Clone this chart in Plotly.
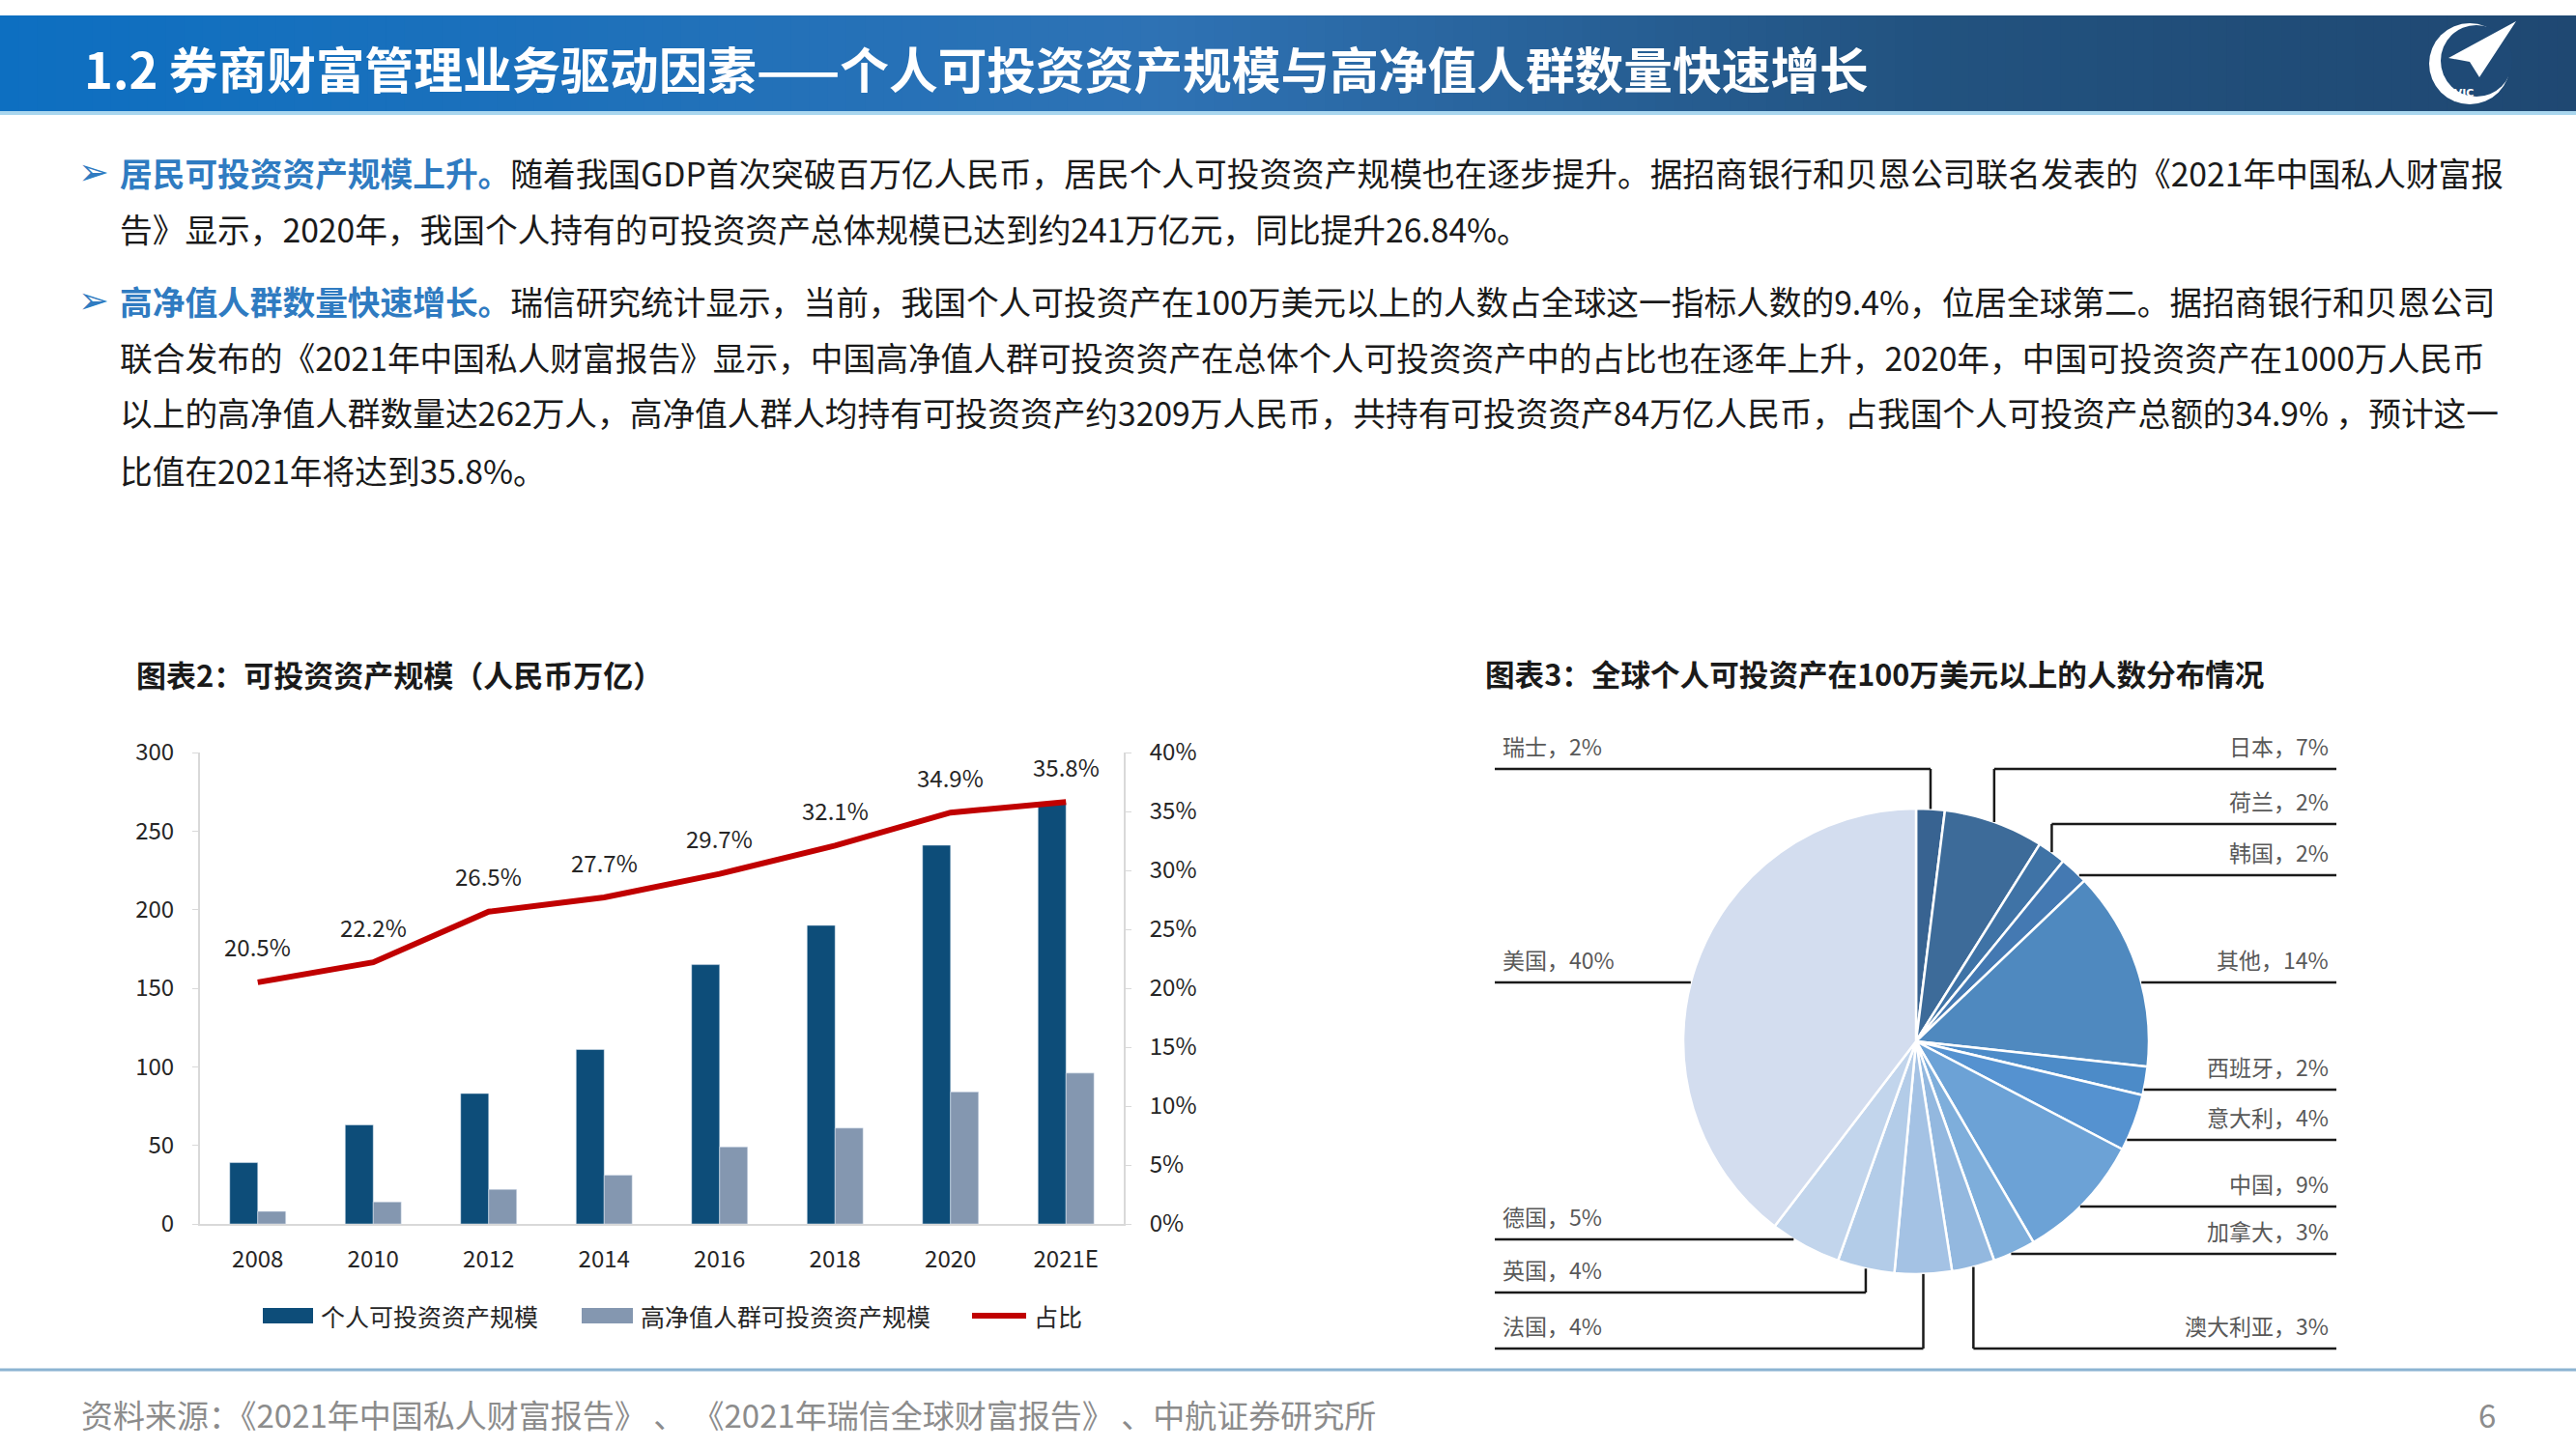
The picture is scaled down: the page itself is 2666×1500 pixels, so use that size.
import math
import plotly.graph_objects as go

W, H = 2666, 1500


def px(x):
    return x / W


def py(y):
    return 1 - y / H


# ---------------- data ----------------
years = ["2008", "2010", "2012", "2014", "2016", "2018", "2020", "2021E"]
personal_assets = [39, 63, 83, 111, 165, 190, 241, 268]
hnw_assets = [8, 14, 22, 31, 49, 61, 84, 96]
hnw_share = [20.5, 22.2, 26.5, 27.7, 29.7, 32.1, 34.9, 35.8]
series_names = ["个人可投资资产规模", "高净值人群可投资资产规模", "占比"]
left_ticks = [0, 50, 100, 150, 200, 250, 300]
right_ticks = [0, 5, 10, 15, 20, 25, 30, 35, 40]

countries = ["瑞士", "日本", "荷兰", "韩国", "其他", "西班牙", "意大利",
             "中国", "加拿大", "澳大利亚", "法国", "英国", "德国", "美国"]
country_pct = [2, 7, 2, 2, 14, 2, 4, 9, 3, 3, 4, 4, 5, 40]
pie_colors = ["#386391", "#3d6b99", "#3f73a6", "#4479b2", "#4f89bf", "#4c8bc8",
              "#5592d0", "#6ca2d6", "#7eaedb", "#93b8df", "#a4c2e4", "#b3cce8",
              "#c2d5ec", "#d3ddef"]

title_text = "1.2 券商财富管理业务驱动因素——个人可投资资产规模与高净值人群数量快速增长"
para_lines = [
    ("居民可投资资产规模上升。", "随着我国GDP首次突破百万亿人民币，居民个人可投资资产规模也在逐步提升。据招商银行和贝恩公司联名发表的《2021年中国私人财富报"),
    ("", "告》显示，2020年，我国个人持有的可投资资产总体规模已达到约241万亿元，同比提升26.84%。"),
    ("高净值人群数量快速增长。", "瑞信研究统计显示，当前，我国个人可投资产在100万美元以上的人数占全球这一指标人数的9.4%，位居全球第二。据招商银行和贝恩公司"),
    ("", "联合发布的《2021年中国私人财富报告》显示，中国高净值人群可投资资产在总体个人可投资资产中的占比也在逐年上升，2020年，中国可投资资产在1000万人民币"),
    ("", "以上的高净值人群数量达262万人，高净值人群人均持有可投资资产约3209万人民币，共持有可投资资产84万亿人民币，占我国个人可投资产总额的34.9% ，预计这一"),
    ("", "比值在2021年将达到35.8%。"),
]
chart2_title = "图表2：可投资资产规模（人民币万亿）"
chart3_title = "图表3：全球个人可投资产在100万美元以上的人数分布情况"
source_text = "资料来源：《2021年中国私人财富报告》 、 《2021年瑞信全球财富报告》 、中航证券研究所"
page_no = "6"

FONT = "Noto Sans CJK SC, Noto Sans, DejaVu Sans, sans-serif"
DARK_BAR = "#0d4d79"
LIGHT_BAR = "#8497b0"
RED = "#c00000"
AXIS_GRAY = "#d9d9d9"

fig = go.Figure()
shapes = []
annotations = []

# ---------------- header band (gradient strips) ----------------
stops = [(0.0, (13, 111, 193)), (0.45, (46, 114, 180)), (0.75, (34, 82, 127)), (1.0, (31, 72, 114))]


def grad(t):
    for (t0, c0), (t1, c1) in zip(stops[:-1], stops[1:]):
        if t0 <= t <= t1:
            f = (t - t0) / (t1 - t0) if t1 > t0 else 0
            return "rgb(%d,%d,%d)" % tuple(round(a + (b - a) * f) for a, b in zip(c0, c1))
    return "rgb(31,72,114)"


N = 140
for i in range(N):
    x0 = W * i / N
    x1 = W * (i + 1) / N + 1
    shapes.append(dict(type="rect", xref="paper", yref="paper", x0=px(x0), x1=px(x1),
                       y0=py(115), y1=py(16), fillcolor=grad((i + 0.5) / N),
                       line=dict(width=0), layer="below"))
shapes.append(dict(type="rect", xref="paper", yref="paper", x0=0, x1=1, y0=py(119), y1=py(115),
                   fillcolor="#a9d6ee", line=dict(width=0), layer="below"))
annotations.append(dict(x=px(85), y=py(70), xref="paper", yref="paper", xanchor="left", yanchor="middle",
                        text="<b>" + title_text + "</b>", showarrow=False,
                        font=dict(family=FONT, size=50.7, color="white")))

# logo
shapes.append(dict(type="circle", xref="paper", yref="paper", x0=px(2514), x1=px(2598), y0=py(108), y1=py(24),
                   fillcolor="white", line=dict(width=0)))
shapes.append(dict(type="circle", xref="paper", yref="paper", x0=px(2526), x1=px(2600), y0=py(100), y1=py(26),
                   fillcolor="#1f4a76", line=dict(width=0)))
plane = "M %f,%f L %f,%f L %f,%f L %f,%f Z" % (px(2604), py(22), px(2534), py(60), px(2556), py(64), px(2566), py(80))
shapes.append(dict(type="path", xref="paper", yref="paper", path=plane, fillcolor="white", line=dict(width=0)))
annotations.append(dict(x=px(2562), y=py(88), xref="paper", yref="paper", text="<b>AVIC</b>", showarrow=False,
                        font=dict(family="DejaVu Sans", size=11, color="white")))

# ---------------- paragraph text ----------------
line_y = [178, 236, 311, 369, 427, 486]
for (lead, rest), yy in zip(para_lines, line_y):
    if lead:
        annotations.append(dict(x=px(97), y=py(yy), xref="paper", yref="paper", text="<b>➢</b>", showarrow=False,
                                xanchor="center", yanchor="middle",
                                font=dict(family="DejaVu Sans", size=38, color="#2f7bc1")))
        txt = "<b><span style='color:#2f7bc1'>%s</span></b>%s" % (lead, rest)
    else:
        txt = rest
    annotations.append(dict(x=px(122), y=py(yy), xref="paper", yref="paper", text=txt, showarrow=False,
                            xanchor="left", yanchor="middle",
                            font=dict(family=FONT, size=33.7, color="#1a1a1a")))

# ---------------- chart titles ----------------
annotations.append(dict(x=px(139), y=py(697), xref="paper", yref="paper", text="<b>" + chart2_title + "</b>",
                        showarrow=False, xanchor="left", yanchor="middle",
                        font=dict(family=FONT, size=31, color="#1a1a1a")))
annotations.append(dict(x=px(1535), y=py(697), xref="paper", yref="paper", text="<b>" + chart3_title + "</b>",
                        showarrow=False, xanchor="left", yanchor="middle",
                        font=dict(family=FONT, size=30.6, color="#1a1a1a")))

# ---------------- bar + line chart ----------------
fig.add_trace(go.Bar(x=years, y=personal_assets, name=series_names[0], marker_color=DARK_BAR,
                     xaxis="x", yaxis="y", showlegend=False, hoverinfo="skip"))
fig.add_trace(go.Bar(x=years, y=hnw_assets, name=series_names[1], marker_color=LIGHT_BAR,
                     xaxis="x", yaxis="y", showlegend=False, hoverinfo="skip"))
fig.add_trace(go.Scatter(x=years, y=hnw_share, name=series_names[2], mode="lines",
                         line=dict(color=RED, width=6), xaxis="x", yaxis="y2",
                         showlegend=False, hoverinfo="skip"))
for idx, v in enumerate(hnw_share):
    annotations.append(dict(x=idx, y=v, xref="x", yref="y2", text="%.1f%%" % v, showarrow=False,
                            yshift=37, font=dict(family=FONT, size=24, color="#262626")))

tick_font = dict(family=FONT, size=24, color="#262626")
legend_font = dict(family=FONT, size=25, color="#262626")
plot_x0, plot_x1 = 207, 1163
plot_y0, plot_y1 = 779, 1267

# custom legend
leg_y = 1362
leg_items = [(272, 324, 330, "bar", DARK_BAR), (602, 655, 661, "bar", LIGHT_BAR), (1006, 1062, 1068, "line", RED)]
for (lx0, lx1, tx, kind, col), name in zip(leg_items, series_names):
    if kind == "bar":
        shapes.append(dict(type="rect", xref="paper", yref="paper", x0=px(lx0), x1=px(lx1),
                           y0=py(leg_y + 8), y1=py(leg_y - 8), fillcolor=col, line=dict(width=0)))
    else:
        shapes.append(dict(type="line", xref="paper", yref="paper", x0=px(lx0), x1=px(lx1),
                           y0=py(leg_y), y1=py(leg_y), line=dict(color=col, width=6)))
    annotations.append(dict(x=px(tx), y=py(leg_y), xref="paper", yref="paper", text=name, showarrow=False,
                            xanchor="left", yanchor="middle", font=legend_font))

# ---------------- pie ----------------
cx, cy, R = 1983, 1078, 241
fig.add_trace(go.Pie(labels=countries, values=country_pct, sort=False, direction="clockwise", rotation=0,
                     marker=dict(colors=pie_colors, line=dict(color="white", width=2.5)),
                     textinfo="none", hoverinfo="skip", showlegend=False,
                     domain=dict(x=[px(cx - R), px(cx + R)], y=[py(cy + R), py(cy - R)])))

# leader lines and labels
label_line_y = [796, 796, 853, 906, 1017, 1128, 1180, 1249, 1298, 1396, 1396, 1338, 1283, 1017]
label_side = ["L", "R", "R", "R", "R", "R", "R", "R", "R", "R", "L", "L", "L", "L"]
LEFT_X, RIGHT_X = 1547, 2418
total = float(sum(country_pct))
cum = 0.0
for name, v, ly, side in zip(countries, country_pct, label_line_y, label_side):
    a0 = cum / total * 360.0
    a1 = (cum + v) / total * 360.0
    cum += v
    dy = ly - cy
    anchor = None
    if abs(dy) < R:
        dx = math.sqrt(R * R - dy * dy)
        ex = cx + (dx if side == "R" else -dx)
        ang = math.degrees(math.atan2(ex - cx, -(ly - cy))) % 360
        if a0 <= ang <= a1:
            anchor = (ex, ly, False)
    if anchor is None:
        am = math.radians((a0 + a1) / 2)
        ex = cx + R * math.sin(am)
        ey = cy - R * math.cos(am)
        anchor = (ex, ey, True)
    ex, ey, vert = anchor
    outer = LEFT_X if side == "L" else RIGHT_X
    shapes.append(dict(type="line", xref="paper", yref="paper", x0=px(outer), x1=px(ex), y0=py(ly), y1=py(ly),
                       line=dict(color="#1a1a1a", width=2.5)))
    if vert:
        shapes.append(dict(type="line", xref="paper", yref="paper", x0=px(ex), x1=px(ex), y0=py(ly), y1=py(ey),
                           line=dict(color="#1a1a1a", width=2.5)))
    annotations.append(dict(x=px(LEFT_X + 6 if side == "L" else RIGHT_X - 6), y=py(ly - 5),
                            xref="paper", yref="paper", text="%s，%d%%" % (name, v), showarrow=False,
                            xanchor="left" if side == "L" else "right", yanchor="bottom",
                            font=dict(family=FONT, size=23, color="#595959")))

# ---------------- footer ----------------
shapes.append(dict(type="line", xref="paper", yref="paper", x0=0, x1=1, y0=py(1418), y1=py(1418),
                   line=dict(color="#8cb4d2", width=3)))
annotations.append(dict(x=px(82), y=py(1464), xref="paper", yref="paper", text=source_text, showarrow=False,
                        xanchor="left", yanchor="middle", font=dict(family=FONT, size=33, color="#8c8c8c")))
annotations.append(dict(x=px(2585), y=py(1464), xref="paper", yref="paper", text=page_no, showarrow=False,
                        xanchor="right", yanchor="middle", font=dict(family=FONT, size=33, color="#8c8c8c")))

fig.update_layout(
    width=W, height=H, autosize=False,
    margin=dict(l=0, r=0, t=0, b=0, pad=0, autoexpand=False),
    paper_bgcolor="white", plot_bgcolor="white",
    barmode="group", bargap=0.515, bargroupgap=0,
    xaxis=dict(domain=[px(plot_x0), px(plot_x1)], type="category", range=[-0.5, len(years) - 0.5],
               showgrid=False, zeroline=False,
               showline=True, linecolor=AXIS_GRAY, linewidth=2, ticks="", tickfont=tick_font,
               ticklabelstandoff=14, anchor="y"),
    yaxis=dict(domain=[py(plot_y1), py(plot_y0)], range=[0, 300], tickvals=left_ticks, showgrid=False,
               zeroline=False, showline=True, linecolor=AXIS_GRAY, linewidth=2, ticks="outside",
               ticklen=6, tickcolor=AXIS_GRAY, tickfont=tick_font, ticklabelstandoff=14, anchor="x"),
    yaxis2=dict(range=[0, 40], tickvals=right_ticks, ticktext=["%d%%" % t for t in right_ticks],
                overlaying="y", side="right",
                showgrid=False, zeroline=False, showline=True, linecolor=AXIS_GRAY, linewidth=2,
                ticks="outside", ticklen=6, tickcolor=AXIS_GRAY, tickfont=tick_font, ticklabelstandoff=14,
                anchor="x"),
    shapes=shapes,
    annotations=annotations,
)

fig.write_html("out.html", config={"displayModeBar": False},
               post_script="document.body.style.margin='0';document.body.style.overflow='hidden';")
